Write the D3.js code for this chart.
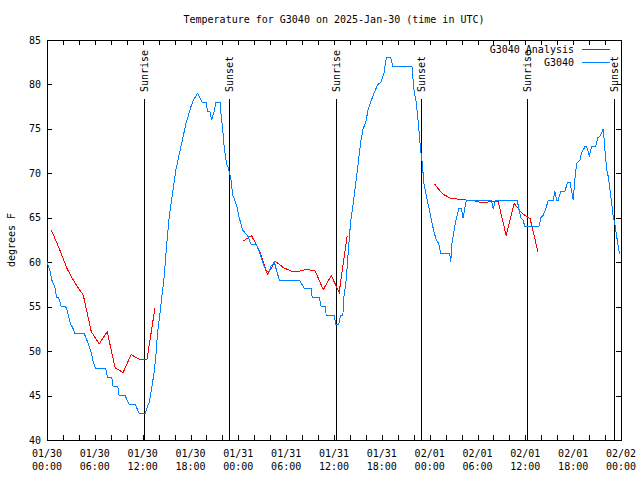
<!DOCTYPE html>
<html><head><meta charset="utf-8">
<script src="https://cdn.jsdelivr.net/npm/d3@7"></script>
<style>
body{margin:0;background:#fff}
text{font-family:"DejaVu Sans Mono","Liberation Mono",monospace;font-size:10px;fill:#000}
</style>
</head><body>
<svg id="chart" width="640" height="480"></svg>
<script>
const title = "Temperature for G3040 on 2025-Jan-30 (time in UTC)";
const yAxisLabel = "degrees F";
const startTime = "2025-01-30T00:00:00Z";
const endTime = "2025-02-02T00:00:00Z";
const yDomain = [40, 85];
const yTickValues = [40, 45, 50, 55, 60, 65, 70, 75, 80, 85];
const seriesNames = ["G3040 Analysis", "G3040"];
const seriesColors = ["#ff0000", "#0080ff"];

// observed G3040: [hours since start, temperature F]
const obsSeries = [
 [0,60],[0.2,59.5],[0.4,59],[0.6,58],[0.85,57.5],[1.05,57],[1.2,56],[1.45,56],[1.8,55],[2.35,55],
 [2.55,54.5],[2.7,54],[2.95,53],[3.2,52.7],[3.5,52],[4.65,52],[4.9,51.5],[5.3,50.5],[5.55,49.8],[5.8,48.8],
 [6.1,48],[7.38,48],[7.58,47],[8.13,47],[8.29,46],[8.88,46],[9.05,45],[9.8,45],[10.3,44],[11.06,44],
 [11.56,43],[12.31,43],[12.6,43.75],[12.82,44.2],[13.03,45.25],[13.23,46.4],[13.45,47.7],[13.66,49.5],[13.86,52],[14.07,53.5],
 [14.36,55.75],[14.7,58.4],[14.92,61],[15.33,65.1],[15.75,67.75],[16.17,70.4],[16.8,73],[17.43,75.6],[18.06,77.5],[18.38,78.25],
 [18.89,79],[19.44,78],[19.94,78],[20.14,77],[20.42,77],[20.65,76],[20.98,77],[21.2,78],[21.7,78],[21.83,76.6],
 [22.03,75],[22.24,72.8],[22.53,71.1],[22.78,70.5],[23.08,69.3],[23.28,67.6],[23.5,67.1],[23.83,66.25],[24.03,65.3],[24.54,63.6],
 [25.17,63],[25.6,62],[26.23,62],[26.64,61.2],[27.06,60],[27.48,59],[27.9,59],[28.11,59.6],[28.53,60],[28.81,59],
 [29.15,58],[31.67,58],[32.3,57],[33.17,57],[33.26,56],[34.18,56],[34.39,55],[34.93,55],[35.02,54],[36.06,54],
 [36.19,53],[36.6,53],[36.82,54],[37.11,54],[37.23,56],[37.53,58],[37.74,60.6],[38.07,64.4],[38.36,66.25],[38.67,68.5],
 [38.99,70.75],[39.33,73.4],[39.62,74.9],[40.05,76],[40.25,77.1],[40.59,78],[41.09,79.2],[41.51,80],[41.93,80.3],[42.26,81.25],
 [42.56,83],[43.1,83],[43.39,82],[45.78,82],[46.03,79.4],[46.33,77.9],[46.62,75.25],[46.87,72.6],[47.03,71.5],[47.28,68.9],
 [47.59,67.4],[47.88,66.25],[48.22,64.75],[48.54,63.4],[48.84,62.5],[49.13,62.1],[49.38,61],[50.51,61],[50.64,60],[50.8,62.1],
 [51.06,63.6],[51.36,65],[51.65,66],[51.99,66],[52.19,65],[52.4,66],[52.61,67],[55.76,67],[55.96,66],[56.26,67],
 [58.97,67],[59.19,66],[59.44,65],[59.72,64.75],[59.94,64],[61.7,64],[61.95,65],[62.24,65.3],[62.54,65.9],[62.87,67],
 [63.5,67],[63.71,68],[63.92,67],[64.12,67],[64.46,68],[64.97,68],[65.3,69],[65.6,69],[65.81,68],[66.01,67],
 [66.22,69.4],[66.44,71.1],[66.85,71.5],[67.06,72.3],[67.48,73],[67.69,73],[68.02,72],[68.32,73],[68.82,73],[69.08,74],
 [69.37,74.2],[69.58,74.6],[69.78,75],[69.99,72.6],[70.21,70.4],[70.41,69.6],[70.62,68.1],[70.83,66.6],[71.03,65.1],[71.25,64.2],
 [71.46,62.9],[71.66,61.75],[71.81,60.9]
];

// G3040 Analysis, three hourly runs: [hours since start, temperature F]
const anaRun1 = [[0.55,63.6],[1.55,61.5],[2.55,59.2],[3.55,57.6],[4.55,56.3],[5.55,52.2],[6.55,50.8],[7.55,52.2],[8.55,48.1],[9.55,47.6],[10.55,49.6],[11.55,49.1],[12.55,49.1],[13.55,54.9]];
const anaRun2 = [[24.65,62.4],[25.65,63.0],[26.65,61.3],[27.65,58.6],[28.65,60.1],[29.65,59.4],[30.65,59.0],[31.65,59.0],[32.65,59.2],[33.65,59.0],[34.65,56.9],[35.65,58.5],[36.65,56.6],[37.65,63.0]];
const anaRun3 = [[48.6,68.8],[49.6,67.7],[50.6,67.2],[51.6,67.1],[52.6,67.0],[53.6,66.9],[54.6,66.7],[55.6,66.8],[56.6,66.8],[57.6,63.0],[58.6,66.6],[59.6,65.5],[60.6,64.9],[61.6,61.1]];

// sun events: hours since start
const sunHours = [12.21, 22.87, 36.30, 46.96, 60.26, 71.1];
const sunLabels = ["Sunrise", "Sunset", "Sunrise", "Sunset", "Sunrise", "Sunset"];

const svg = d3.select("#chart");
const L = 47, R = 621, T = 40, B = 440;
const t0 = new Date(startTime);
const toDate = h => new Date(t0.getTime() + h * 3600e3);

const x = d3.scaleUtc().domain([t0, new Date(endTime)]).range([L, R]);
const y = d3.scaleLinear().domain(yDomain).range([B, T]);

svg.append("rect").attr("width", 640).attr("height", 480).attr("fill", "#fff");

// Title
svg.append("text").attr("x", 334).attr("y", 23).attr("text-anchor", "middle").text(title);

// Y label
svg.append("text").attr("transform", "translate(11,240) rotate(-90)")
  .attr("text-anchor", "middle").attr("dy", "0.35em").text(yAxisLabel);

const g = svg.append("g").attr("shape-rendering", "crispEdges");

// ticks (inward, mirrored)
const tickLen = 5;
const xTickDates = d3.utcHour.every(2).range(t0, new Date(new Date(endTime).getTime() + 1));
xTickDates.forEach(d => {
  const px = Math.round(x(d)) + 0.5;
  g.append("line").attr("x1", px).attr("x2", px).attr("y1", B).attr("y2", B - tickLen).attr("stroke", "#000");
  g.append("line").attr("x1", px).attr("x2", px).attr("y1", T).attr("y2", T + tickLen).attr("stroke", "#000");
});
yTickValues.forEach(v => {
  const py = Math.round(y(v)) + 0.5;
  g.append("line").attr("x1", L).attr("x2", L + tickLen).attr("y1", py).attr("y2", py).attr("stroke", "#000");
  g.append("line").attr("x1", R).attr("x2", R - tickLen).attr("y1", py).attr("y2", py).attr("stroke", "#000");
  svg.append("text").attr("x", 41).attr("y", y(v)).attr("dy", "0.35em").attr("text-anchor", "end").text(v);
});

// x labels every 6h
const fmtDay = d3.utcFormat("%m/%d"), fmtHour = d3.utcFormat("%H:%M");
d3.utcHour.every(6).range(t0, new Date(new Date(endTime).getTime() + 1)).forEach(d => {
  const tx = svg.append("text").attr("text-anchor", "middle");
  tx.append("tspan").attr("x", x(d)).attr("y", 457).text(fmtDay(d));
  tx.append("tspan").attr("x", x(d)).attr("y", 470).text(fmtHour(d));
});

// sunrise / sunset lines
sunHours.forEach((h, i) => {
  const px = Math.round(x(toDate(h))) + 0.5;
  g.append("line").attr("x1", px).attr("x2", px).attr("y1", 99).attr("y2", B).attr("stroke", "#000");
  svg.append("text").attr("transform", `translate(${px},92) rotate(-90)`)
    .attr("dy", "0.35em").attr("text-anchor", "start").text(sunLabels[i]);
});

// frame
g.append("rect").attr("x", L + 0.5).attr("y", T + 0.5).attr("width", R - L).attr("height", B - T)
  .attr("fill", "none").attr("stroke", "#000");

const line = d3.line().x(d => x(toDate(d[0]))).y(d => y(d[1]));

[anaRun1, anaRun2, anaRun3].forEach(run => {
  g.append("path").datum(run).attr("d", line).attr("fill", "none")
    .attr("stroke", seriesColors[0]).attr("stroke-width", 1);
});
g.append("path").datum(obsSeries).attr("d", line).attr("fill", "none")
  .attr("stroke", seriesColors[1]).attr("stroke-width", 1);

// legend
seriesNames.forEach((name, i) => {
  const ly = 49 + i * 13;
  svg.append("text").attr("x", 574).attr("y", ly).attr("dy", "0.35em").attr("text-anchor", "end").text(name);
  g.append("line").attr("x1", 582).attr("x2", 610).attr("y1", ly + 0.5).attr("y2", ly + 0.5)
    .attr("stroke", seriesColors[i]);
});
</script>
</body></html>
